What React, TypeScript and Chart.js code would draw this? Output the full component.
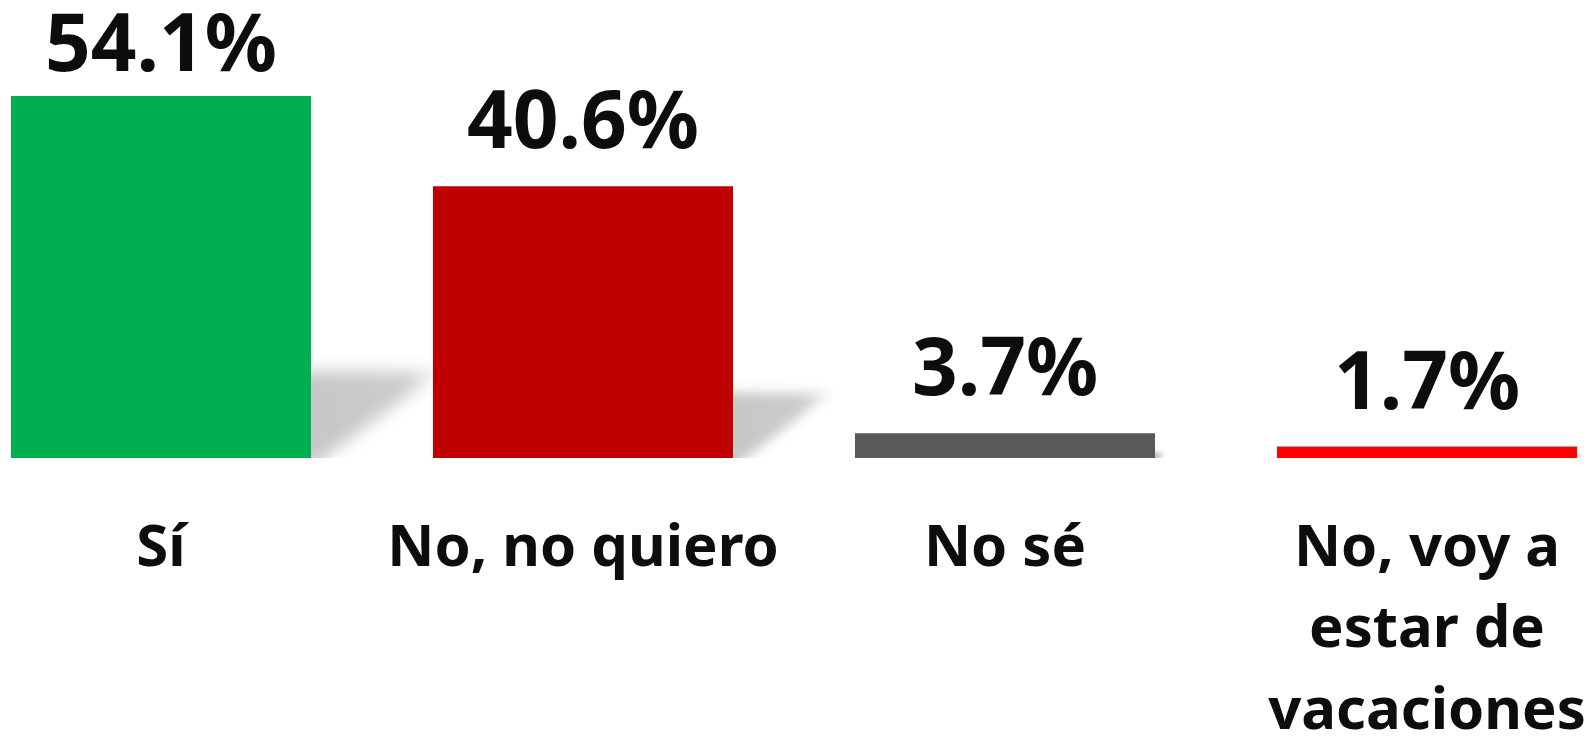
import React, { useEffect, useRef } from "react";
import { Chart, registerables } from "chart.js";

Chart.register(...registerables);

const categories: (string | string[])[] = [
  "Sí",
  "No, no quiero",
  "No sé",
  ["No, voy a", "estar de", "vacaciones"],
];
const values: number[] = [54.1, 40.6, 3.7, 1.7];
const barColors: string[] = ["#00B050", "#C00000", "#595959", "#FF0000"];

const FONT = "'Noto Sans', 'Open Sans', sans-serif";
const TEXT_COLOR = "#0D0D0D";

const shadowPlugin = {
  id: "perspectiveShadow",
  beforeDatasetsDraw(chart: any) {
    const ctx = chart.ctx as CanvasRenderingContext2D;
    const meta = chart.getDatasetMeta(0);
    meta.data.forEach((bar: any) => {
      const { x, y, base, width } = bar.getProps(["x", "y", "base", "width"], true);
      const h = base - y;
      if (h <= 0) return;
      const left = x - width / 2;
      const right = x + width / 2;
      const dx = 0.36 * h;
      const dy = 0.24 * h;
      ctx.save();
      ctx.beginPath();
      ctx.rect(right, base - dy - 30, dx + 60, dy + 30);
      ctx.clip();
      const g = ctx.createLinearGradient(right, 0, right + dx, 0);
      g.addColorStop(0, "rgba(0,0,0,0.22)");
      g.addColorStop(0.7, "rgba(0,0,0,0.2)");
      g.addColorStop(1, "rgba(0,0,0,0.08)");
      ctx.filter = `blur(${Math.max(2, Math.min(8, h * 0.022))}px)`;
      ctx.fillStyle = g;
      ctx.beginPath();
      ctx.moveTo(left, base + 10);
      ctx.lineTo(right, base + 10);
      ctx.lineTo(right + dx, base - dy);
      ctx.lineTo(left + dx, base - dy);
      ctx.closePath();
      ctx.fill();
      ctx.restore();
    });
  },
};

const valueLabelPlugin = {
  id: "valueLabels",
  afterDatasetsDraw(chart: any) {
    const ctx = chart.ctx as CanvasRenderingContext2D;
    const meta = chart.getDatasetMeta(0);
    const size = 80;
    ctx.save();
    ctx.font = `bold ${size}px ${FONT}`;
    ctx.fillStyle = TEXT_COLOR;
    ctx.textAlign = "center";
    ctx.textBaseline = "alphabetic";
    meta.data.forEach((bar: any, i: number) => {
      const { x, y } = bar.getProps(["x", "y"], true);
      const minBaseline = size * 0.714 + 14;
      const by = Math.max(y - 38, minBaseline);
      ctx.fillText(values[i].toFixed(1) + "%", x, by);
    });
    ctx.restore();
  },
};

export default function App() {
  const ref = useRef<HTMLCanvasElement>(null);

  useEffect(() => {
    if (!ref.current) return;
    const chart = new Chart(ref.current, {
      type: "bar",
      data: {
        labels: categories,
        datasets: [
          {
            data: values,
            backgroundColor: barColors,
            borderWidth: 0,
            barPercentage: 0.711,
            categoryPercentage: 1,
          },
        ],
      },
      options: {
        responsive: false,
        animation: false,
        devicePixelRatio: window.devicePixelRatio || 1,
        layout: { padding: { top: 56.5, left: 0, right: 0, bottom: 0 } },
        plugins: {
          legend: { display: false },
          tooltip: { enabled: false },
          title: { display: false },
        },
        scales: {
          x: {
            grid: { display: false, drawTicks: false },
            border: { display: false },
            ticks: {
              color: TEXT_COLOR,
              font: { family: FONT, size: 58, weight: "bold", lineHeight: 1.4 },
              padding: 51,
              autoSkip: false,
              maxRotation: 0,
              minRotation: 0,
            },
            afterFit: (scale: any) => {
              scale.height = 281;
            },
          },
          y: {
            display: false,
            min: 0,
            max: 60,
          },
        },
      },
      plugins: [shadowPlugin, valueLabelPlugin],
    });
    return () => chart.destroy();
  }, []);

  return (
    <div
      style={{
        position: "fixed",
        left: 0,
        top: 0,
        width: "1595px",
        height: "739px",
        overflow: "hidden",
        background: "#ffffff",
      }}
    >
      <div style={{ position: "absolute", left: "-50px", top: 0, width: "1688px", height: "739px" }}>
        <canvas ref={ref} width={1688} height={739} style={{ width: "1688px", height: "739px", display: "block" }} />
      </div>
    </div>
  );
}
